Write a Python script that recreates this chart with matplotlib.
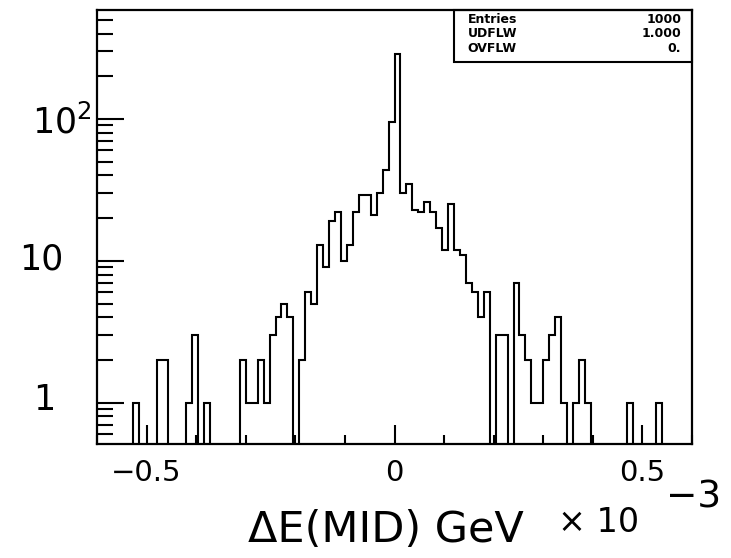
import numpy as np
import matplotlib
matplotlib.use("Agg")
import matplotlib.pyplot as plt
from matplotlib.ticker import MultipleLocator, LogLocator, NullFormatter, FuncFormatter
from matplotlib.patches import Rectangle

# 100 bins of dE(MID), range -0.6 .. 0.6 (x 1e-3 GeV)
bin_lo, bin_hi, n_bins = -0.6, 0.6, 100
counts = np.array([
    0, 0, 0, 0, 0, 0, 1, 0, 0, 0,
    2, 2, 0, 0, 0, 1, 3, 0, 1, 0,
    0, 0, 0, 0, 2, 1, 1, 2, 1, 3,
    4, 5, 4, 0, 2, 6, 5, 13, 9, 19,
    22, 10, 13, 22, 29, 29, 21, 30, 44, 96,
    286, 30, 35, 23, 22, 26, 22, 17, 12, 25,
    12, 11, 7, 6, 4, 6, 0, 3, 3, 0,
    7, 3, 2, 1, 1, 2, 3, 4, 1, 0,
    1, 2, 1, 0, 0, 0, 0, 0, 0, 1,
    0, 0, 0, 0, 1, 0, 0, 0, 0, 0,
])

stat_names = ["Entries", "UDFLW", "OVFLW"]
stat_values = ["1000", "1.000", "0."]

decade_ticks = [1, 10, 100]
decade_labels = ["1", "10", r"$\mathregular{10^{2}}$"]

edges = np.linspace(bin_lo, bin_hi, n_bins + 1)

W, H = 731, 558
fig = plt.figure(figsize=(W / 100, H / 100), dpi=100)
ax = fig.add_axes([97 / W, 1 - 444 / H, 595 / W, 434 / H])

# empty bins drop below the log axis floor so the outline runs along the frame
floor = 1e-3
ax.stairs(np.where(counts > 0, counts, floor), edges, baseline=floor,
          color="black", linewidth=1.5)

ax.set_yscale("log")
ax.set_xlim(bin_lo, bin_hi)
ax.set_ylim(0.511, 587)

for s in ax.spines.values():
    s.set_linewidth(1.6)

ax.xaxis.set_major_locator(MultipleLocator(0.5))
ax.xaxis.set_minor_locator(MultipleLocator(0.1))
ax.xaxis.set_major_formatter(FuncFormatter(
    lambda v, _: "0" if abs(v) < 1e-9 else f"{v:g}".replace("-", "\u2212")))
ax.yaxis.set_major_locator(LogLocator(base=10, numticks=10))
ax.yaxis.set_minor_locator(LogLocator(base=10, subs=np.arange(2, 10), numticks=20))
ax.yaxis.set_major_formatter(NullFormatter())
ax.yaxis.set_minor_formatter(NullFormatter())

ax.tick_params(which="both", direction="in", top=False, right=False, width=1.5)
ax.tick_params(axis="y", which="major", length=19.5)
ax.tick_params(axis="y", which="minor", length=11.5)
ax.tick_params(axis="x", which="major", length=13.7, labelsize=21, pad=11)
ax.tick_params(axis="x", which="minor", length=6.5)

# decade labels on the y axis
offsets = {1: (-42, 3, "center"), 10: (-34, 1, "center"), 100: (-5, -14, "baseline")}
for v, lab in zip(decade_ticks, decade_labels):
    dx, dy, va = offsets[v]
    ax.annotate(lab, xy=(0, v), xycoords=ax.get_yaxis_transform(),
                xytext=(dx, dy), textcoords="offset pixels",
                ha="right", va=va, fontsize=25)

ax.set_xlabel("\u0394E(MID) GeV", fontsize=31)
ax.xaxis.set_label_coords(0.485, -0.15)

fig.text(558 / W, 1 - 532 / H, "\u00d7 10", fontsize=24, ha="left", va="baseline")
fig.text(666 / W, 1 - 508 / H, "\u22123", fontsize=27, ha="left", va="baseline")

# statistics box in the upper right corner
ax.add_patch(Rectangle((0.6, 0.881), 0.4, 0.119, fill=False, linewidth=1.5,
                       edgecolor="black", transform=ax.transAxes, clip_on=False))
for i, (name, val) in enumerate(zip(stat_names, stat_values)):
    y = 0.979 - 0.034 * i
    ax.text(0.623, y, name, transform=ax.transAxes, fontsize=9,
            fontweight="bold", ha="left", va="center")
    ax.text(0.982, y, val, transform=ax.transAxes, fontsize=9,
            fontweight="bold", ha="right", va="center")

fig.savefig("out.png", dpi=100)
